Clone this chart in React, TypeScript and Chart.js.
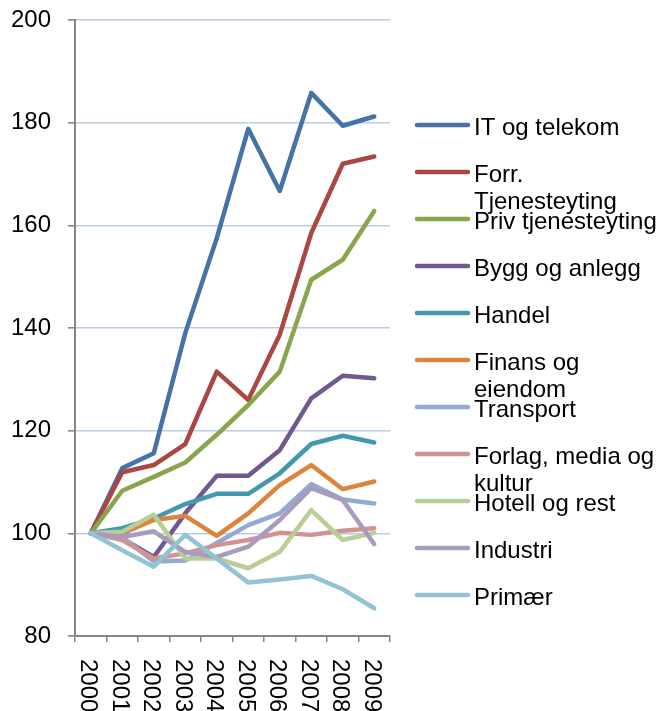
import React, { useEffect, useRef } from "react";
import { Chart, registerables } from "chart.js";

Chart.register(...registerables);

const YEARS = ["2000", "2001", "2002", "2003", "2004", "2005", "2006", "2007", "2008", "2009"];

const SERIES_NAMES = [
  "IT og telekom",
  "Forr. Tjenesteyting",
  "Priv tjenesteyting",
  "Bygg og anlegg",
  "Handel",
  "Finans og eiendom",
  "Transport",
  "Forlag, media og kultur",
  "Hotell og rest",
  "Industri",
  "Primær",
];

const IT_TELEKOM = [100, 112.7, 115.6, 139.0, 157.5, 178.8, 166.7, 185.8, 179.4, 181.2];
const FORR_TJENESTE = [100, 111.9, 113.3, 117.4, 131.5, 126.0, 138.7, 158.5, 172.0, 173.4];
const PRIV_TJENESTE = [100, 108.3, 111.0, 113.8, 119.2, 125.0, 131.5, 149.4, 153.3, 162.8];
const BYGG_ANLEGG = [100, 99.0, 95.4, 103.9, 111.2, 111.2, 116.2, 126.3, 130.7, 130.2];
const HANDEL = [100, 101.0, 102.9, 105.7, 107.7, 107.7, 111.7, 117.4, 119.0, 117.7];
const FINANS = [100, 100.0, 102.6, 103.4, 99.5, 103.9, 109.4, 113.3, 108.6, 110.1];
const TRANSPORT = [100, 99.3, 94.5, 94.7, 98.1, 101.6, 103.9, 109.6, 106.6, 105.8];
const FORLAG = [100, 98.7, 95.1, 96.1, 97.7, 98.7, 100.1, 99.7, 100.5, 101.0];
const HOTELL = [100, 100.3, 103.6, 95.1, 95.1, 93.2, 96.4, 104.5, 98.7, 100.1];
const INDUSTRI = [100, 99.3, 100.4, 96.4, 95.4, 97.4, 102.6, 108.8, 106.5, 97.9];
const PRIMAER = [100, 96.7, 93.5, 99.7, 95.1, 90.4, 91.0, 91.7, 89.1, 85.4];

const SERIES_VALUES = [
  IT_TELEKOM, FORR_TJENESTE, PRIV_TJENESTE, BYGG_ANLEGG, HANDEL, FINANS,
  TRANSPORT, FORLAG, HOTELL, INDUSTRI, PRIMAER,
];

const COLORS = [
  "#4572A7", "#AA4643", "#89A54E", "#71588F", "#4198AF", "#DB843D",
  "#93A9CF", "#D19392", "#B9CD96", "#A99BBD", "#92C3D5",
];

const Y_MIN = 80;
const Y_MAX = 200;
const Y_STEP = 20;

const FONT = '"Liberation Sans", Arial, sans-serif';
const FONT_SIZE = 24;

const textPlugin = {
  id: "customText",
  afterDraw(chart: any) {
    const ctx = chart.ctx as CanvasRenderingContext2D;
    const xs = chart.scales.x;
    ctx.save();
    ctx.fillStyle = "#000";
    ctx.font = `${FONT_SIZE}px ${FONT}`;
    // rotated x labels (clockwise)
    YEARS.forEach((lab, i) => {
      const x = xs.getPixelForValue(i);
      ctx.save();
      ctx.translate(x - 3, xs.top + 23);
      ctx.rotate(Math.PI / 2);
      ctx.textAlign = "left";
      ctx.textBaseline = "middle";
      ctx.fillText(lab, 0, 0);
      ctx.restore();
    });
    // legend
    const lineX0 = 417;
    const lineX1 = 468;
    const textX = 474;
    const maxW = chart.width - textX;
    SERIES_NAMES.forEach((name, i) => {
      const y = 125 + 47 * i;
      ctx.strokeStyle = COLORS[i];
      ctx.lineWidth = 4.5;
      ctx.lineCap = "round";
      ctx.beginPath();
      ctx.moveTo(lineX0, y);
      ctx.lineTo(lineX1, y);
      ctx.stroke();
      const words = name.split(" ");
      const lines: string[] = [];
      let cur = "";
      words.forEach((w) => {
        const test = cur ? cur + " " + w : w;
        if (cur && ctx.measureText(test).width > maxW) {
          lines.push(cur);
          cur = w;
        } else {
          cur = test;
        }
      });
      if (cur) lines.push(cur);
      ctx.textAlign = "left";
      ctx.textBaseline = "alphabetic";
      lines.forEach((ln, k) => {
        ctx.fillText(ln, textX, y + 10 + 27 * k);
      });
    });
    ctx.restore();
  },
};

export default function App() {
  const ref = useRef<HTMLCanvasElement | null>(null);

  useEffect(() => {
    if (!ref.current) return;
    const n = SERIES_NAMES.length;
    const chart = new Chart(ref.current, {
      type: "line",
      data: {
        labels: YEARS,
        datasets: SERIES_NAMES.map((name, i) => ({
          label: name,
          data: SERIES_VALUES[i],
          borderColor: COLORS[i],
          backgroundColor: COLORS[i],
          borderWidth: 4.5,
          pointRadius: 0,
          tension: 0,
          fill: false,
          borderCapStyle: "round" as const,
          borderJoinStyle: "round" as const,
          order: n - 1 - i,
        })),
      },
      options: {
        responsive: false,
        animation: false,
        layout: { padding: { top: 20, right: 270, left: 0, bottom: 0 } },
        plugins: {
          legend: { display: false },
          tooltip: { enabled: false },
        },
        scales: {
          x: {
            type: "category",
            offset: true,
            afterFit: (s: any) => {
              s.height = 75;
              s.paddingLeft = 0;
              s.paddingRight = 0;
            },
            grid: {
              offset: true,
              drawOnChartArea: false,
              drawTicks: true,
              tickLength: 6,
              tickColor: "#868686",
              lineWidth: 1.5,
            },
            border: { color: "#868686", width: 2 },
            ticks: { display: false },
          },
          y: {
            min: Y_MIN,
            max: Y_MAX,
            afterFit: (s: any) => {
              s.width = 75;
              s.paddingTop = 0;
              s.paddingBottom = 0;
            },
            ticks: {
              stepSize: Y_STEP,
              color: "#000",
              font: { family: FONT, size: FONT_SIZE },
              padding: 17,
            },
            grid: {
              color: (c: any) => (c.tick && c.tick.value === Y_MIN ? "rgba(0,0,0,0)" : "#B9CDE5"),
              lineWidth: 1.6,
              tickLength: 7,
              tickColor: "#868686",
            },
            border: { color: "#868686", width: 2 },
          },
        },
      },
      plugins: [textPlugin],
    });
    return () => chart.destroy();
  }, []);

  return (
    <div style={{ position: "fixed", left: 0, top: 0, width: 660, height: 711, background: "#fff" }}>
      <canvas ref={ref} width={660} height={711} style={{ display: "block" }} />
    </div>
  );
}
